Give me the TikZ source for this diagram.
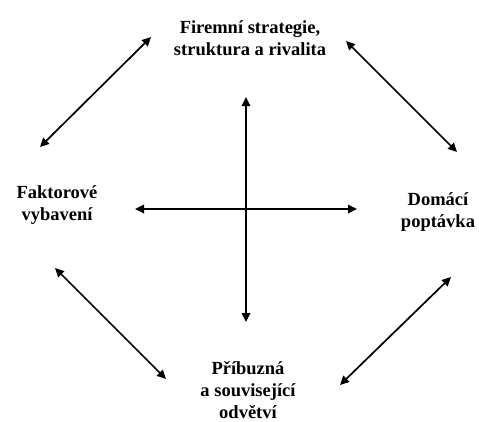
\documentclass[tikz,border=0pt]{standalone}
\usepackage{fontspec}
\setmainfont{Liberation Serif}
\usetikzlibrary{arrows.meta}
\begin{document}
\begin{tikzpicture}[x=1pt,y=-1pt,
  lbl/.style={align=center,inner sep=0pt,font=\bfseries\fontsize{18.5}{22}\selectfont},
  dbl/.style={{Triangle[length=9pt,width=8.5pt]}-{Triangle[length=9pt,width=8.5pt]},line width=1.7pt}]
\useasboundingbox (0,0) rectangle (479,421);
\node[lbl] (top) at (250,38) {Firemní strategie,\\struktura a rivalita};
\node[lbl] (left) at (57,205) {Faktorové\\vybavení};
\node[lbl] (right) at (438,212) {Domácí\\poptávka};
\node[lbl] (bot) at (248,390) {Příbuzná\\a související\\odvětví};
% endpoints
\coordinate (tl1) at (40,147);  \coordinate (tl2) at (151,37);
\coordinate (tr1) at (346,41);  \coordinate (tr2) at (457,152);
\coordinate (bl1) at (55,268);  \coordinate (bl2) at (166,379);
\coordinate (br1) at (451,277); \coordinate (br2) at (340,385);
\coordinate (vt) at (246,97);   \coordinate (vb) at (246,322);
\coordinate (hl) at (135,209);  \coordinate (hr) at (357,209);
\draw[dbl] (tl1) -- (tl2);
\draw[dbl] (tr1) -- (tr2);
\draw[dbl] (bl1) -- (bl2);
\draw[dbl] (br1) -- (br2);
\draw[dbl] (vt) -- (vb);
\draw[dbl] (hl) -- (hr);
\end{tikzpicture}
\end{document}
